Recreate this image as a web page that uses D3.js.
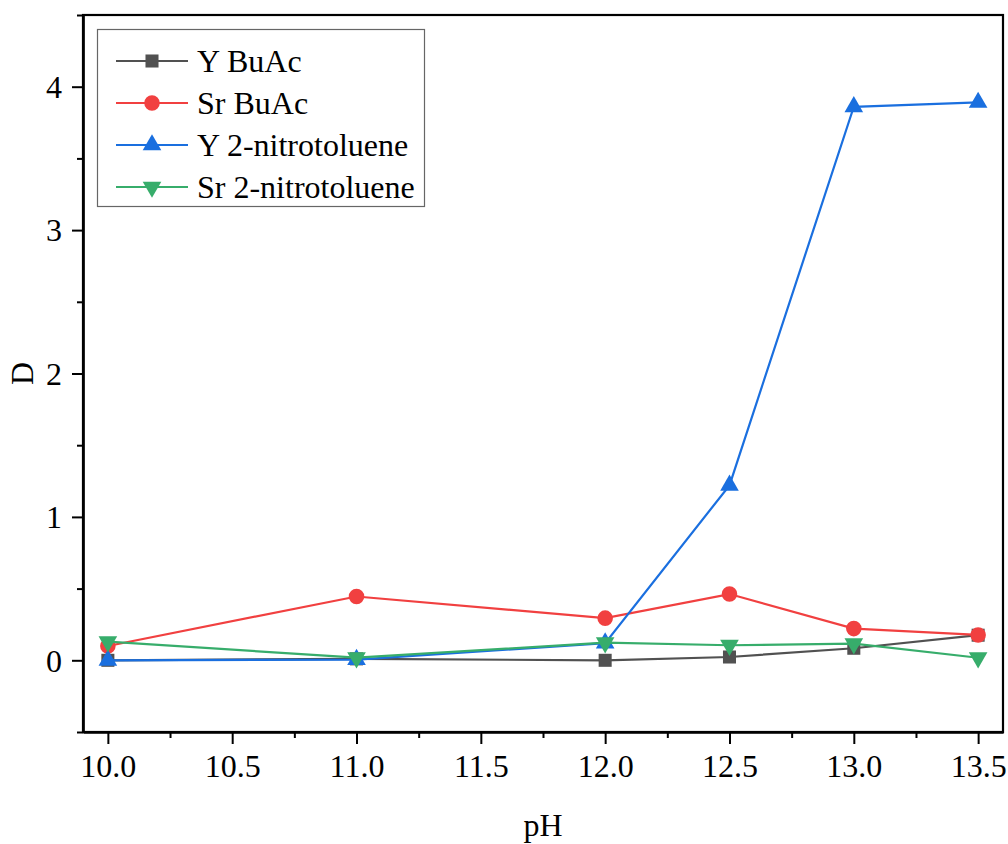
<!DOCTYPE html>
<html>
<head>
<meta charset="utf-8">
<script src="https://cdn.jsdelivr.net/npm/d3@7"></script>
<style>
body { margin: 0; background: #fff; }
text { font-family: "Liberation Serif", "Times New Roman", serif; }
</style>
</head>
<body>
<svg id="chart"></svg>
<script>
var pH = [10.0, 11.0, 12.0, 12.5, 13.0, 13.5];
var yBuAc = [0.0, 0.01, 0.0, 0.023, 0.084, 0.175];
var srBuAc = [0.10, 0.445, 0.294, 0.462, 0.221, 0.177];
var yNitro = [0.0, 0.005, 0.12, 1.22, 3.86, 3.89];
var srNitro = [0.13, 0.018, 0.123, 0.105, 0.116, 0.018];
var seriesNames = ["Y BuAc", "Sr BuAc", "Y 2-nitrotoluene", "Sr 2-nitrotoluene"];
var xTicks = [10.0, 10.5, 11.0, 11.5, 12.0, 12.5, 13.0, 13.5];
var yTicks = [0, 1, 2, 3, 4];

var width = 1008;
var height = 844;
var padL = 83, padR = 1003, padT = 15, padB = 732;

var svg = d3.select("#chart")
    .attr("width", width)
    .attr("height", height);

var xScale = d3.scaleLinear().domain([9.9, 13.6]).range([padL, padR]);
var yScale = d3.scaleLinear().domain([-0.5, 4.5]).range([padB, padT]);

var series = [
    {name: seriesNames[0], values: yBuAc, color: "#515151", symbol: d3.symbolSquare, size: 170, rotate: 0},
    {name: seriesNames[1], values: srBuAc, color: "#F14040", symbol: d3.symbolCircle, size: 190, rotate: 0},
    {name: seriesNames[2], values: yNitro, color: "#1A6FDF", symbol: d3.symbolTriangle, size: 150, rotate: 0},
    {name: seriesNames[3], values: srNitro, color: "#37AD6B", symbol: d3.symbolTriangle, size: 150, rotate: 180}
];

// axes: major ticks with labels, minor ticks halfway
var xMinor = d3.range(10.25, 13.6, 0.5);
svg.append("g").attr("transform", "translate(0," + padB + ")")
    .call(d3.axisBottom(xScale).tickValues(xMinor).tickFormat("").tickSize(6).tickSizeOuter(0));
var gx = svg.append("g").attr("transform", "translate(0," + padB + ")")
    .call(d3.axisBottom(xScale).tickValues(xTicks).tickFormat(d3.format(".1f")).tickSize(12).tickSizeOuter(0));

var yMinor = d3.range(-0.5, 4.6, 1);
svg.append("g").attr("transform", "translate(" + padL + ",0)")
    .call(d3.axisLeft(yScale).tickValues(yMinor).tickFormat("").tickSize(6).tickSizeOuter(0));
var gy = svg.append("g").attr("transform", "translate(" + padL + ",0)")
    .call(d3.axisLeft(yScale).tickValues(yTicks).tickFormat(d3.format("d")).tickSize(11).tickSizeOuter(0));

svg.selectAll(".domain").attr("stroke-width", 2.2);
svg.selectAll(".tick line").attr("stroke-width", 2);
gx.selectAll(".tick text").attr("font-size", 32).attr("y", 16).attr("dy", "0.9em").attr("fill", "#000");
gy.selectAll(".tick text").attr("font-size", 32).attr("x", -21).attr("dy", "0.34em").attr("fill", "#000");

// frame
svg.append("rect")
    .attr("x", padL).attr("y", padT)
    .attr("width", padR - padL).attr("height", padB - padT)
    .attr("fill", "none").attr("stroke", "#000").attr("stroke-width", 2.2);

// axis titles
svg.append("text").attr("x", 543).attr("y", 836)
    .attr("text-anchor", "middle").attr("font-size", 32).text("pH");
svg.append("text")
    .attr("transform", "translate(33," + yScale(2) + ") rotate(-90)")
    .attr("text-anchor", "middle").attr("font-size", 32).text("D");

// lines and markers
var line = d3.line()
    .x(function(d, i) { return xScale(pH[i]); })
    .y(function(d) { return yScale(d); });

series.forEach(function(s) {
    svg.append("path")
        .attr("d", line(s.values))
        .attr("fill", "none")
        .attr("stroke", s.color)
        .attr("stroke-width", 2.2);
    svg.selectAll(null)
        .data(s.values)
        .enter()
        .append("path")
        .attr("d", d3.symbol().type(s.symbol).size(s.size))
        .attr("transform", function(d, i) {
            return "translate(" + xScale(pH[i]) + "," + yScale(d) + ") rotate(" + s.rotate + ")";
        })
        .attr("fill", s.color);
});

// legend
var legend = svg.append("g");
legend.append("rect")
    .attr("x", 97.5).attr("y", 29.5).attr("width", 327).attr("height", 177)
    .attr("fill", "#fff").attr("stroke", "#666").attr("stroke-width", 1.2);
series.forEach(function(s, i) {
    var ly = 61 + i * 42;
    legend.append("line")
        .attr("x1", 116).attr("x2", 188).attr("y1", ly).attr("y2", ly)
        .attr("stroke", s.color).attr("stroke-width", 2.2);
    legend.append("path")
        .attr("d", d3.symbol().type(s.symbol).size(s.size))
        .attr("transform", "translate(152," + ly + ") rotate(" + s.rotate + ")")
        .attr("fill", s.color);
    legend.append("text")
        .attr("x", 197).attr("y", ly).attr("dy", "0.34em")
        .attr("font-size", 32).text(s.name);
});
</script>
</body>
</html>
